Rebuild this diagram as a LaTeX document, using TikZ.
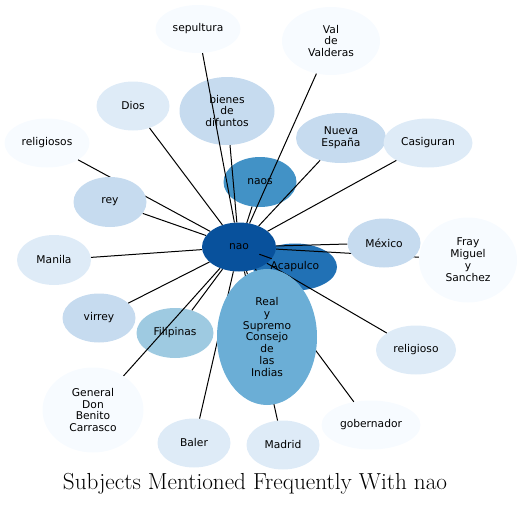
\documentclass[tikz,border=0pt]{standalone}
\usepackage{fontspec}
\usepackage{tikz}
\usetikzlibrary{shapes.geometric}
\newfontfamily\dejavu{DejaVu Sans}
\definecolor{blues0}{HTML}{F7FBFF}
\definecolor{blues1}{HTML}{DEEBF7}
\definecolor{blues2}{HTML}{C6DBEF}
\definecolor{blues3}{HTML}{9ECAE1}
\definecolor{blues4}{HTML}{6BAED6}
\definecolor{blues5}{HTML}{4292C6}
\definecolor{blues6}{HTML}{2171B5}
\definecolor{blues7}{HTML}{08519C}
\pgfdeclarelayer{front}
\pgfsetlayers{main,front}

\begin{document}
\begin{tikzpicture}[x=1pt, y=-1pt,
  blob/.style 2 args={ellipse, inner sep=0pt, align=center, minimum width=#1pt, minimum height=#2pt,
    font=\dejavu\fontsize{10.7}{11.9}\selectfont},
  tone0/.style={fill=blues0},
  tone1/.style={fill=blues1},
  tone2/.style={fill=blues2},
  tone3/.style={fill=blues3},
  tone4/.style={fill=blues4},
  tone5/.style={fill=blues5},
  tone6/.style={fill=blues6},
  tone7/.style={fill=blues7},
  link/.style={draw=black, line width=1pt}
]
\useasboundingbox (0,0) rectangle (523,506);

\node (acap) at (295,267) [blob={84}{47}, tone6] {Acapulco};
\node (nao) at (239,247) [blob={74}{49}, tone7] {nao};

\node (sep) at (198,29) [blob={85}{48}, tone0] {sepultura};
\node (val) at (331,41) [blob={98}{68}, tone0] {Val\\de\\Valderas};
\node (dios) at (133,106) [blob={73}{49}, tone1] {Dios};
\node (bienes) at (227,111) [blob={95}{68}, tone2] {bienes\\de\\difuntos};
\node (relgs) at (47,143) [blob={85}{49}, tone0] {religiosos};
\node (nueva) at (341,138) [blob={90}{50}, tone2] {Nueva\\España};
\node (casig) at (428,143) [blob={89}{49}, tone1] {Casiguran};
\node (naos) at (260,182) [blob={73}{50}, tone5] {naos};
\node (fray) at (468,260) [blob={98}{85}, tone0] {Fray\\Miguel\\y\\Sanchez};
\node (manila) at (54,260) [blob={74}{50}, tone1] {Manila};
\node (virrey) at (99,318) [blob={73}{49}, tone2] {virrey};
\node (filip) at (175,333) [blob={77}{50}, tone3] {Filipinas};
\node (relg) at (416,350) [blob={80}{49}, tone1] {religioso};
\node (general) at (93,410) [blob={101}{85}, tone0] {General\\Don\\Benito\\Carrasco};
\node (baler) at (194,443) [blob={73}{49}, tone1] {Baler};
\node (madrid) at (283,445) [blob={73}{49}, tone1] {Madrid};
\node (gober) at (371,425) [blob={99}{49}, tone0] {gobernador};

% these three sit over the lines
\begin{pgfonlayer}{front}
\node (rey) at (110,202) [blob={73}{50}, tone2] {rey};
\node (mex) at (384,243) [blob={73}{49}, tone2] {México};
\node (real) at (267,337) [blob={100}{136}, tone4] {Real\\y\\Supremo\\Consejo\\de\\las\\Indias};
\end{pgfonlayer}

\foreach \leaf in {sep, val, dios, bienes, relgs, nueva, casig, naos, rey, acap, mex, fray,
  manila, virrey, filip, real, relg, general, baler, madrid, gober}
  \draw [link] (nao) -- (\leaf);

\node (title) at (255,484) {\fontsize{23.2}{27}\selectfont Subjects Mentioned Frequently With nao};

\end{tikzpicture}
\end{document}
